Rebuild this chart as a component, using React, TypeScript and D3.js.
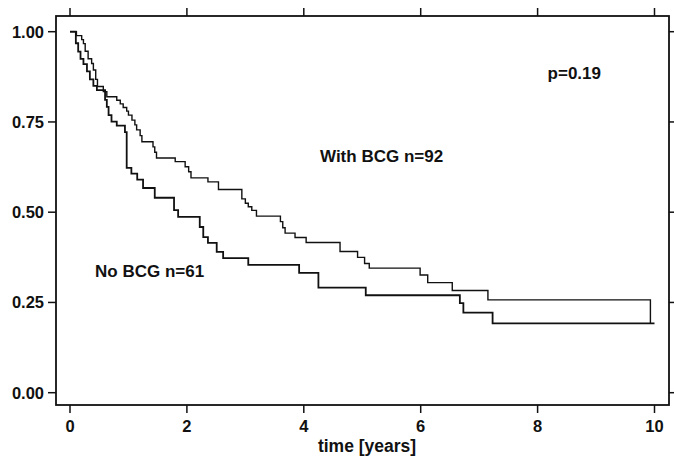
import React from "react";
import * as d3 from "d3";

// Kaplan-Meier steps: time (years) -> survival after the event
const noBcgTimes = [0.1, 0.14, 0.18, 0.23, 0.29, 0.34, 0.4, 0.46, 0.6, 0.63, 0.66, 0.71, 0.8, 0.94, 0.97, 1.05, 1.15, 1.25, 1.45, 1.78, 1.85, 2.22, 2.28, 2.36, 2.51, 2.62, 3.05, 3.92, 4.25, 5.06, 6.67, 6.73, 7.23];
const noBcgSurv = [0.968, 0.945, 0.925, 0.91, 0.89, 0.868, 0.85, 0.838, 0.811, 0.792, 0.769, 0.751, 0.74, 0.722, 0.623, 0.607, 0.59, 0.567, 0.54, 0.506, 0.487, 0.459, 0.431, 0.415, 0.39, 0.373, 0.354, 0.332, 0.291, 0.27, 0.248, 0.222, 0.192];
const noBcgEnd = 10.0;

const bcgTimes = [0.11, 0.2, 0.23, 0.26, 0.31, 0.37, 0.4, 0.44, 0.47, 0.57, 0.63, 0.8, 0.86, 0.91, 0.97, 1.0, 1.06, 1.11, 1.14, 1.2, 1.23, 1.42, 1.45, 1.48, 1.8, 1.97, 2.03, 2.07, 2.36, 2.54, 2.94, 3.0, 3.05, 3.11, 3.19, 3.6, 3.64, 3.68, 3.85, 4.04, 4.62, 4.92, 5.04, 5.12, 5.99, 6.12, 6.54, 7.15, 9.93];
const bcgSurv = [0.989, 0.978, 0.967, 0.946, 0.925, 0.912, 0.894, 0.868, 0.848, 0.834, 0.82, 0.81, 0.8, 0.79, 0.78, 0.769, 0.755, 0.742, 0.728, 0.712, 0.695, 0.681, 0.666, 0.65, 0.64, 0.626, 0.612, 0.595, 0.584, 0.563, 0.537, 0.525, 0.515, 0.505, 0.489, 0.474, 0.457, 0.442, 0.43, 0.416, 0.391, 0.375, 0.358, 0.345, 0.326, 0.305, 0.283, 0.257, 0.192];
const bcgEnd = 9.93;

const xTicks = [0, 2, 4, 6, 8, 10];
const yTicks = [0, 0.25, 0.5, 0.75, 1.0];

const font = "'Liberation Sans', Arial, Helvetica, sans-serif";

const buildSteps = (times, surv, end) => {
  const pts = [[0, 1]];
  times.forEach((t, i) => pts.push([t, surv[i]]));
  const last = pts[pts.length - 1];
  if (last[0] < end) pts.push([end, last[1]]);
  return pts;
};

export default function App() {
  const width = 674;
  const height = 456;
  const frame = { left: 56, right: 669, top: 16, bottom: 405 };

  const x = d3.scaleLinear().domain([0, 10]).range([70, 654.5]);
  const y = d3.scaleLinear().domain([0, 1]).range([392.7, 31.7]);

  const line = d3
    .line()
    .x((d) => x(d[0]))
    .y((d) => y(d[1]))
    .curve(d3.curveStepAfter);

  const noBcg = buildSteps(noBcgTimes, noBcgSurv, noBcgEnd);
  const bcg = buildSteps(bcgTimes, bcgSurv, bcgEnd);

  return (
    <svg
      width={width}
      height={height}
      style={{ position: "absolute", left: 0, top: 0, background: "#fff" }}
      fontFamily={font}
      fontWeight="bold"
    >
      <rect width={width} height={height} fill="#fff" />
      {/* frame */}
      <rect
        x={frame.left}
        y={frame.top}
        width={frame.right - frame.left}
        height={frame.bottom - frame.top}
        fill="none"
        stroke="#111"
        strokeWidth="1.8"
      />
      {/* y ticks, left labelled, right outward */}
      {yTicks.map((v, i) => (
        <g key={i}>
          <line x1={frame.left - 8} x2={frame.left} y1={y(v)} y2={y(v)} stroke="#111" strokeWidth="1.5" />
          <line x1={frame.right} x2={frame.right + 6} y1={y(v)} y2={y(v)} stroke="#111" strokeWidth="1.5" />
          <text x={44} y={y(v)} dy="0.36em" textAnchor="end" fontSize="16.5" fill="#111">
            {v.toFixed(2)}
          </text>
        </g>
      ))}
      {/* x ticks, bottom labelled, top outward */}
      {xTicks.map((v, i) => (
        <g key={i}>
          <line x1={x(v)} x2={x(v)} y1={frame.bottom} y2={frame.bottom + 8} stroke="#111" strokeWidth="1.5" />
          <line x1={x(v)} x2={x(v)} y1={frame.top - 8} y2={frame.top} stroke="#111" strokeWidth="1.5" />
          <text x={x(v)} y={432} textAnchor="middle" fontSize="16.5" fill="#111">
            {v}
          </text>
        </g>
      ))}
      <text x={367} y={452} textAnchor="middle" fontSize="17.5" fill="#111">
        time [years]
      </text>

      <path d={line(noBcg)} fill="none" stroke="#111" strokeWidth="1.8" />
      <path d={line(bcg)} fill="none" stroke="#111" strokeWidth="1.4" />

      <text x={601} y={79} textAnchor="end" fontSize="17" fill="#111">
        p=0.19
      </text>
      <text x={320} y={162} fontSize="17" fill="#111">
        With BCG n=92
      </text>
      <text x={95} y={277} fontSize="17" fill="#111">
        No BCG n=61
      </text>
    </svg>
  );
}
